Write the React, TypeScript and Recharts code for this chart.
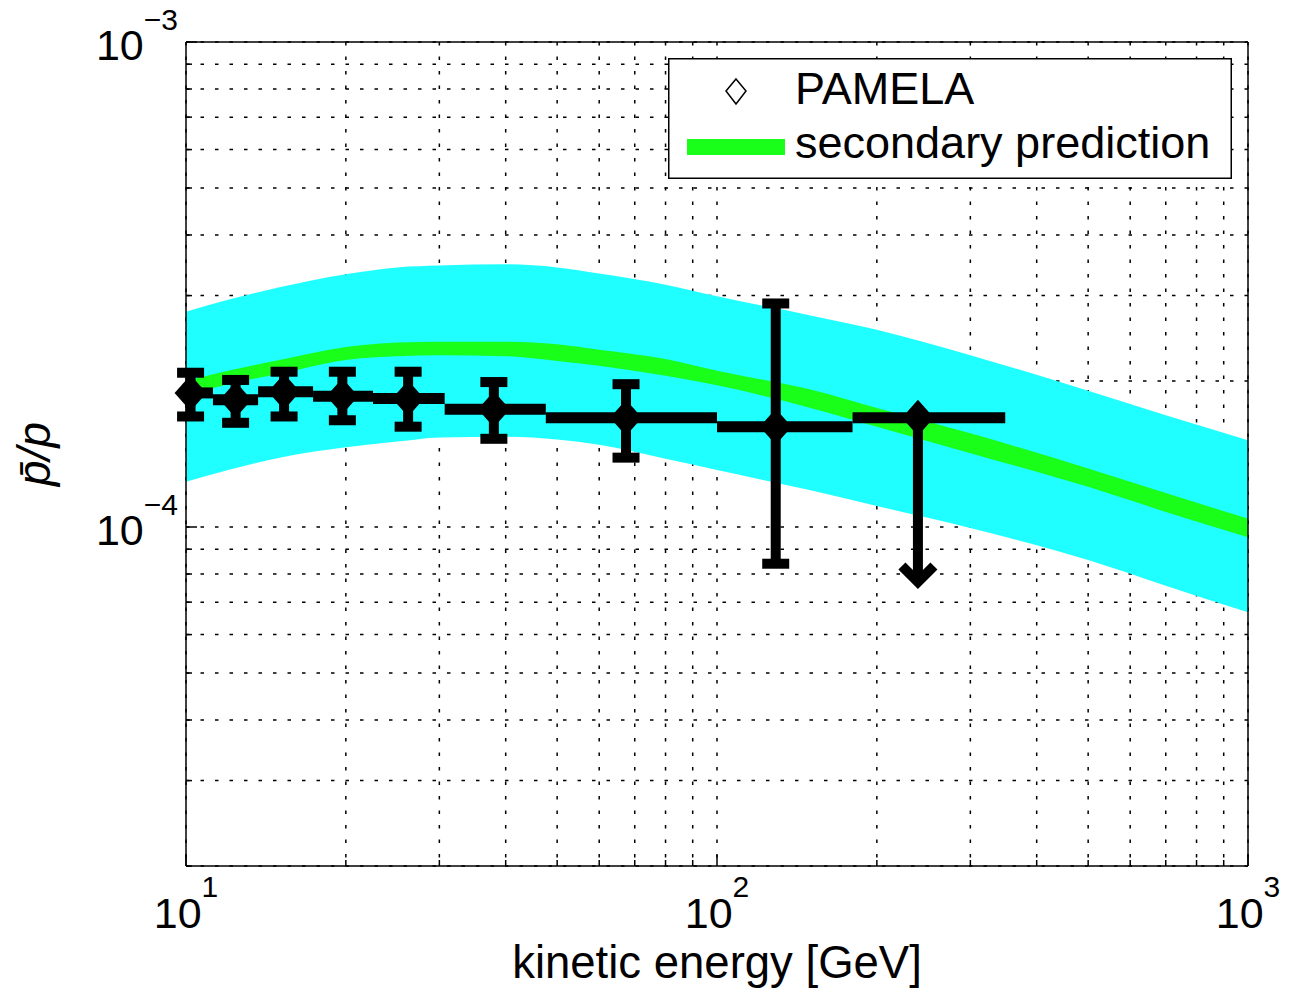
import {
  Area,
  CartesianGrid,
  ComposedChart,
  ErrorBar,
  Label,
  Legend,
  Scatter,
  XAxis,
  YAxis
} from "recharts";

const FONT = '"Liberation Sans", Arial, Helvetica, sans-serif';
const CYAN = "#1fffff";
const GREEN = "#1aff1a";

// secondary prediction, sampled along kinetic energy [GeV]
const ENERGY = [10, 12, 15, 20, 25, 30, 40, 50, 60, 80, 100, 150, 200, 300, 500, 700, 1000];
const BAND_HIGH = [2.78e-4, 2.94e-4, 3.12e-4, 3.32e-4, 3.43e-4, 3.46e-4, 3.48e-4, 3.43e-4, 3.33e-4, 3.16e-4, 2.99e-4, 2.73e-4, 2.55e-4, 2.26e-4, 1.91e-4, 1.7e-4, 1.51e-4];
const BAND_LOW = [1.24e-4, 1.31e-4, 1.39e-4, 1.46e-4, 1.5e-4, 1.53e-4, 1.535e-4, 1.515e-4, 1.477e-4, 1.382e-4, 1.31e-4, 1.19e-4, 1.105e-4, 0.995e-4, 0.855e-4, 0.757e-4, 0.667e-4];
const PRED_HIGH = [2.0e-4, 2.1e-4, 2.21e-4, 2.35e-4, 2.4e-4, 2.41e-4, 2.41e-4, 2.38e-4, 2.32e-4, 2.22e-4, 2.1e-4, 1.92e-4, 1.76e-4, 1.56e-4, 1.32e-4, 1.175e-4, 1.04e-4];
const PRED_LOW = [1.87e-4, 1.97e-4, 2.07e-4, 2.21e-4, 2.25e-4, 2.26e-4, 2.25e-4, 2.2e-4, 2.15e-4, 2.05e-4, 1.96e-4, 1.76e-4, 1.61e-4, 1.42e-4, 1.21e-4, 1.074e-4, 0.953e-4];

// PAMELA points
const PAMELA_E = [10.2, 12.4, 15.3, 19.7, 26.2, 38.0, 67.4, 129];
const PAMELA_E_MIN = [10.0, 11.24, 13.67, 17.35, 22.5, 30.7, 47.6, 100];
const PAMELA_E_MAX = [11.24, 13.67, 17.35, 22.5, 30.7, 47.6, 100, 180];
const PAMELA_RATIO = [1.89e-4, 1.83e-4, 1.9e-4, 1.86e-4, 1.84e-4, 1.75e-4, 1.68e-4, 1.61e-4];
const PAMELA_LOW = [1.69e-4, 1.64e-4, 1.69e-4, 1.66e-4, 1.61e-4, 1.52e-4, 1.39e-4, 0.84e-4];
const PAMELA_HIGH = [2.08e-4, 2.01e-4, 2.09e-4, 2.09e-4, 2.09e-4, 1.99e-4, 1.97e-4, 2.89e-4];

// last bin is an upper limit
const LIMIT_E = 239;
const LIMIT_E_MIN = 180;
const LIMIT_E_MAX = 349;
const LIMIT_RATIO = 1.68e-4;
const LIMIT_FLOOR = 7.7e-5;

const X_TICKS = [10, 20, 30, 40, 50, 60, 70, 80, 90, 100, 200, 300, 400, 500, 600, 700, 800, 900, 1000];
const Y_TICKS = [
  2e-5, 3e-5, 4e-5, 5e-5, 6e-5, 7e-5, 8e-5, 9e-5,
  1e-4, 2e-4, 3e-4, 4e-4, 5e-4, 6e-4, 7e-4, 8e-4, 9e-4, 1e-3
];

const curveData = ENERGY.map((e, i) => ({
  e,
  band: [BAND_LOW[i], BAND_HIGH[i]],
  pred: [PRED_LOW[i], PRED_HIGH[i]]
}));

const pamelaData = PAMELA_E.map((e, i) => ({
  e,
  ratio: PAMELA_RATIO[i],
  ex: [e - PAMELA_E_MIN[i], PAMELA_E_MAX[i] - e],
  ey: [PAMELA_RATIO[i] - PAMELA_LOW[i], PAMELA_HIGH[i] - PAMELA_RATIO[i]]
}));

const limitData = [
  {
    e: LIMIT_E,
    ratio: LIMIT_RATIO,
    ex: [LIMIT_E - LIMIT_E_MIN, LIMIT_E_MAX - LIMIT_E],
    ey: [LIMIT_RATIO - LIMIT_FLOOR, 0]
  }
];
const arrowData = [{ e: LIMIT_E, ratio: LIMIT_FLOOR }];

const isDecade = (v: number) => Math.abs(Math.log10(v) - Math.round(Math.log10(v))) < 1e-6;
const expOf = (v: number) => Math.round(Math.log10(v));

function BottomTick(props: any) {
  const { x, y, payload } = props;
  const major = isDecade(payload.value);
  return (
    <g>
      <line x1={x} x2={x} y1={y} y2={y - (major ? 11 : 6)} stroke="#000" strokeWidth={1.5} />
      {major && (
        <text x={x} y={y + 62} textAnchor="middle" fontFamily={FONT} fontSize={43} fill="#000">
          10
          <tspan dy={-31} fontSize={30}>
            {expOf(payload.value)}
          </tspan>
        </text>
      )}
    </g>
  );
}

function TopTick(props: any) {
  const { x, y, payload } = props;
  const major = isDecade(payload.value);
  return <line x1={x} x2={x} y1={y} y2={y + (major ? 11 : 6)} stroke="#000" strokeWidth={1.5} />;
}

function LeftTick(props: any) {
  const { x, y, payload } = props;
  const major = isDecade(payload.value);
  return (
    <g>
      <line x1={x} x2={x + (major ? 11 : 6)} y1={y} y2={y} stroke="#000" strokeWidth={1.5} />
      {major && (
        <text x={x - 8} y={y + 18} textAnchor="end" fontFamily={FONT} fontSize={43} fill="#000">
          10
          <tspan dy={-30} fontSize={30}>
            {"\u2212" + Math.abs(expOf(payload.value))}
          </tspan>
        </text>
      )}
    </g>
  );
}

function RightTick(props: any) {
  const { x, y, payload } = props;
  const major = isDecade(payload.value);
  return <line x1={x} x2={x - (major ? 11 : 6)} y1={y} y2={y} stroke="#000" strokeWidth={1.5} />;
}

function XTitle(props: any) {
  const vb = props.viewBox;
  return (
    <text x={vb.x + vb.width / 2} y={vb.y + 112} textAnchor="middle" fontFamily={FONT} fontSize={45.5} fill="#000">
      kinetic energy [GeV]
    </text>
  );
}

function YTitle(props: any) {
  const vb = props.viewBox;
  const cx = vb.x + 50;
  const cy = vb.y + vb.height / 2;
  return (
    <text
      x={cx}
      y={cy}
      transform={`rotate(-90, ${cx}, ${cy})`}
      textAnchor="middle"
      fontFamily={FONT}
      fontStyle="italic"
      fontSize={46}
      fill="#000"
    >
      {"p\u0304/p"}
    </text>
  );
}

function Diamond(props: any) {
  const { cx, cy } = props;
  return (
    <polygon
      points={`${cx},${cy - 18} ${cx + 16},${cy} ${cx},${cy + 18} ${cx - 16},${cy}`}
      fill="#000"
    />
  );
}

function ArrowHead(props: any) {
  const { cx, cy } = props;
  return (
    <polyline
      points={`${cx - 16},${cy - 16} ${cx},${cy} ${cx + 16},${cy - 16}`}
      fill="none"
      stroke="#000"
      strokeWidth={10}
      strokeLinejoin="miter"
    />
  );
}

function LegendBox() {
  return (
    <svg width={564} height={121} style={{ display: "block" }}>
      <rect x={0.75} y={0.75} width={562.5} height={119.5} fill="#fff" stroke="#000" strokeWidth={1.5} />
      <polygon points="68,21 78,33 68,46 58,33" fill="none" stroke="#000" strokeWidth={1.5} />
      <text x={127} y={46} fontFamily={FONT} fontSize={45} fill="#000">
        PAMELA
      </text>
      <rect x={19} y={81} width={98} height={16} fill={GREEN} />
      <text x={127} y={100} fontFamily={FONT} fontSize={45} fill="#000">
        secondary prediction
      </text>
    </svg>
  );
}

export default function App() {
  return (
    <div style={{ position: "absolute", left: 0, top: 0, width: 1299, height: 993, background: "#fff" }}>
      <ComposedChart
        width={1299}
        height={993}
        data={curveData}
        margin={{ top: 41, right: 50, bottom: 0, left: 0 }}
      >
        <XAxis
          dataKey="e"
          type="number"
          scale="log"
          domain={[10, 1000]}
          ticks={X_TICKS}
          interval={0}
          height={127}
          tickSize={0}
          tickMargin={0}
          tickLine={false}
          tick={<BottomTick />}
          axisLine={{ stroke: "#000", strokeWidth: 1.5 }}
        >
          <Label content={<XTitle />} />
        </XAxis>
        <XAxis
          xAxisId="top"
          orientation="top"
          type="number"
          scale="log"
          domain={[10, 1000]}
          ticks={X_TICKS}
          interval={0}
          height={1}
          tickSize={0}
          tickMargin={0}
          tickLine={false}
          tick={<TopTick />}
          axisLine={{ stroke: "#000", strokeWidth: 1.5 }}
        />
        <YAxis
          type="number"
          scale="log"
          domain={[2e-5, 1e-3]}
          ticks={Y_TICKS}
          interval={0}
          width={186}
          tickSize={0}
          tickMargin={0}
          tickLine={false}
          tick={<LeftTick />}
          axisLine={{ stroke: "#000", strokeWidth: 1.5 }}
        >
          <Label content={<YTitle />} />
        </YAxis>
        <YAxis
          yAxisId="right"
          orientation="right"
          type="number"
          scale="log"
          domain={[2e-5, 1e-3]}
          ticks={Y_TICKS}
          interval={0}
          width={1}
          tickSize={0}
          tickMargin={0}
          tickLine={false}
          tick={<RightTick />}
          axisLine={{ stroke: "#000", strokeWidth: 1.5 }}
        />
        <Area
          type="monotone"
          dataKey="band"
          stroke="none"
          fill={CYAN}
          fillOpacity={1}
          isAnimationActive={false}
        />
        <Area
          type="monotone"
          dataKey="pred"
          stroke="none"
          fill={GREEN}
          fillOpacity={1}
          isAnimationActive={false}
        />
        <CartesianGrid stroke="#000" strokeWidth={1.5} strokeDasharray="3.5 11" />
        <Scatter data={pamelaData} dataKey="ratio" shape={<Diamond />} isAnimationActive={false}>
          <ErrorBar dataKey="ex" direction="x" width={0} strokeWidth={11} stroke="#000" isAnimationActive={false} />
          <ErrorBar dataKey="ey" direction="y" width={13.5} strokeWidth={10} stroke="#000" isAnimationActive={false} />
        </Scatter>
        <Scatter data={limitData} dataKey="ratio" shape={<Diamond />} isAnimationActive={false}>
          <ErrorBar dataKey="ex" direction="x" width={0} strokeWidth={11} stroke="#000" isAnimationActive={false} />
          <ErrorBar dataKey="ey" direction="y" width={0} strokeWidth={10} stroke="#000" isAnimationActive={false} />
        </Scatter>
        <Scatter data={arrowData} dataKey="ratio" shape={<ArrowHead />} isAnimationActive={false} />
        <Legend
          layout="horizontal"
          verticalAlign="middle"
          align="center"
          content={<LegendBox />}
          wrapperStyle={{ left: 668, top: 58, width: 564, height: 121 }}
        />
      </ComposedChart>
    </div>
  );
}
